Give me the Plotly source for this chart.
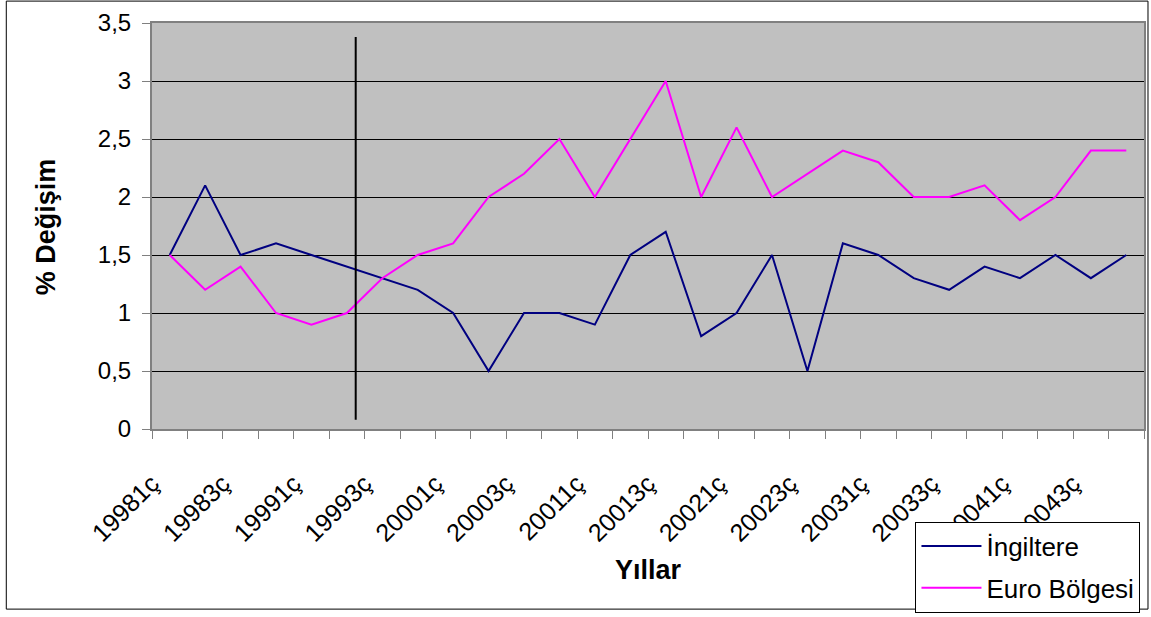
import plotly.graph_objects as go

# quarterly periods 1998Q1 .. 2004Q4
periods = ["19981ç", "19982ç", "19983ç", "19984ç",
           "19991ç", "19992ç", "19993ç", "19994ç",
           "20001ç", "20002ç", "20003ç", "20004ç",
           "20011ç", "20012ç", "20013ç", "20014ç",
           "20021ç", "20022ç", "20023ç", "20024ç",
           "20031ç", "20032ç", "20033ç", "20034ç",
           "20041ç", "20042ç", "20043ç", "20044ç"]

ingiltere = [1.5, 2.1, 1.5, 1.6, 1.5, 1.4, 1.3, 1.2,
             1.0, 0.5, 1.0, 1.0, 0.9, 1.5, 1.7, 0.8,
             1.0, 1.5, 0.5, 1.6, 1.5, 1.3, 1.2, 1.4,
             1.3, 1.5, 1.3, 1.5]

euro = [1.5, 1.2, 1.4, 1.0, 0.9, 1.0, 1.3, 1.5,
        1.6, 2.0, 2.2, 2.5, 2.0, 2.5, 3.0, 2.0,
        2.6, 2.0, 2.2, 2.4, 2.3, 2.0, 2.0, 2.1,
        1.8, 2.0, 2.4, 2.4]

# only every other quarter gets a label
tick_labels = [p if i % 2 == 0 else "" for i, p in enumerate(periods)]

# vertical marker line (between 1999Q2 and 1999Q3)
divider_x = 5.25
divider_y = (0.08, 3.38)

W, H = 1151, 617
L, R, T, B = 152, 5, 23, 186
pw, ph = W - L - R, H - T - B

def px_x(v):
    return (v - L) / pw

def px_y(v):
    return (H - B - v) / ph

font = "Liberation Sans, Arial, sans-serif"

fig = go.Figure()
fig.add_trace(go.Scatter(x=periods, y=ingiltere, mode="lines", name="İngiltere",
                         legendgroup="a", line=dict(color="#000080", width=2)))
fig.add_trace(go.Scatter(x=periods, y=euro, mode="lines", name="Euro Bölgesi",
                         legendgroup="b", line=dict(color="#FF00FF", width=2)))

fig.add_shape(type="line", xref="x", yref="y",
              x0=divider_x, x1=divider_x, y0=divider_y[0], y1=divider_y[1],
              line=dict(color="black", width=2))

# outer chart border
fig.add_shape(type="rect", xref="paper", yref="paper",
              x0=px_x(6), x1=px_x(1150), y0=px_y(612), y1=px_y(1),
              line=dict(color="black", width=1), layer="below")

fig.update_xaxes(
    type="category", range=[-0.5, len(periods) - 0.5],
    tickmode="array", tickvals=periods, ticktext=tick_labels,
    tickson="boundaries", ticks="outside", ticklen=8, tickcolor="#808080",
    tickangle=-45, tickfont=dict(size=25, color="black", family=font),
    ticklabelstandoff=28, ticklabelshift=-18,
    showline=True, linecolor="#808080", linewidth=2, mirror=True,
    showgrid=False, zeroline=False,
)
fig.update_yaxes(
    range=[0, 3.5], dtick=0.5, tick0=0,
    ticks="outside", ticklen=8, tickcolor="#808080",
    tickfont=dict(size=24, color="black", family=font),
    ticklabelstandoff=6,
    showline=True, linecolor="#808080", linewidth=2, mirror=True,
    showgrid=True, gridcolor="black", gridwidth=1, zeroline=False,
)

fig.add_annotation(text="<b>Yıllar</b>", xref="paper", yref="paper",
                   x=px_x(649), y=px_y(573), xanchor="center", yanchor="middle",
                   showarrow=False, font=dict(size=27, color="black", family=font))
fig.add_annotation(text="<b>% Değişim</b>", xref="paper", yref="paper",
                   x=px_x(46), y=px_y(228), xanchor="center", yanchor="middle",
                   showarrow=False, textangle=-90,
                   font=dict(size=27, color="black", family=font))

fig.update_layout(
    width=W, height=H,
    margin=dict(l=L, r=R, t=T, b=B),
    plot_bgcolor="#C0C0C0", paper_bgcolor="white",
    separators=",.",
    showlegend=True,
    legend=dict(x=px_x(917), y=px_y(524), xanchor="left", yanchor="top",
                bgcolor="white", bordercolor="black", borderwidth=1,
                font=dict(size=26, color="black", family=font),
                traceorder="grouped", tracegroupgap=5, itemwidth=60),
)

fig.write_html("out.html", config={"displayModeBar": False},
               post_script="document.body.style.margin='0';")
